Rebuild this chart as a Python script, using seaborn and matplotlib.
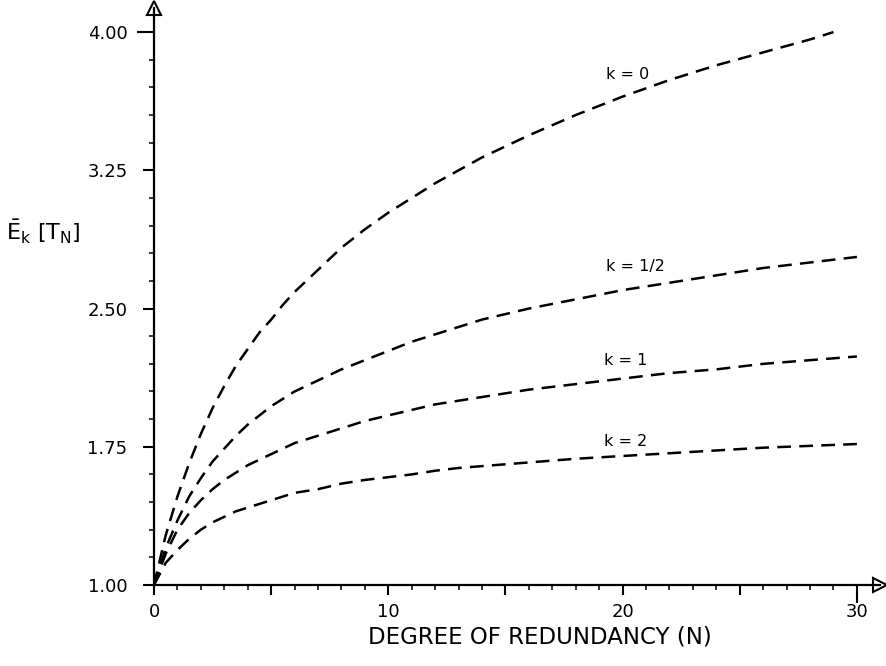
import numpy as np
import pandas as pd
import matplotlib
matplotlib.use("Agg")
import matplotlib.pyplot as plt
from matplotlib.ticker import MultipleLocator, FixedLocator, FuncFormatter
import seaborn as sns

# ---- data ----
N_grid = [0, 0.5, 1, 1.5, 2, 2.5, 3, 3.5, 4, 4.5, 5, 5.5, 6, 6.5, 7, 8, 9, 10, 11, 12,
          13, 14, 16, 18, 20, 22, 24, 26, 28, 30]
N_k0 = [0, 0.5, 1, 1.5, 2, 2.5, 3, 3.5, 4, 4.5, 5, 5.5, 6, 6.5, 7, 8, 9, 10, 11, 12,
        13, 14, 16, 18, 20, 22, 24, 26, 28, 29]
E_k0 = [1.00, 1.27, 1.48, 1.66, 1.82, 1.96, 2.08, 2.19, 2.28, 2.37, 2.44, 2.52, 2.59,
        2.65, 2.71, 2.83, 2.93, 3.02, 3.10, 3.18, 3.25, 3.32, 3.44, 3.55, 3.65, 3.74,
        3.82, 3.89, 3.96, 4.00]
E_k05 = [1.00, 1.20, 1.35, 1.48, 1.58, 1.67, 1.74, 1.81, 1.87, 1.92, 1.97, 2.01, 2.05,
         2.08, 2.11, 2.17, 2.22, 2.27, 2.32, 2.36, 2.40, 2.44, 2.50, 2.55, 2.60, 2.64,
         2.68, 2.72, 2.75, 2.78]
E_k1 = [1.00, 1.17, 1.30, 1.39, 1.46, 1.52, 1.57, 1.61, 1.65, 1.68, 1.71, 1.74, 1.77,
        1.79, 1.81, 1.85, 1.89, 1.92, 1.95, 1.98, 2.00, 2.02, 2.06, 2.09, 2.12, 2.15,
        2.17, 2.20, 2.22, 2.24]
E_k2 = [1.00, 1.12, 1.19, 1.25, 1.30, 1.34, 1.37, 1.40, 1.42, 1.44, 1.46, 1.48, 1.50,
        1.51, 1.52, 1.55, 1.57, 1.585, 1.60, 1.62, 1.635, 1.645, 1.665, 1.685, 1.70,
        1.715, 1.73, 1.745, 1.755, 1.765]

series_names = ["k = 0", "k = 1/2", "k = 1", "k = 2"]
label_x = [19.3, 19.3, 19.2, 19.2]
label_y = [3.77, 2.73, 2.22, 1.78]

y_major = [1.00, 1.75, 2.50, 3.25, 4.00]
x_labels = {0: "0", 10: "10", 20: "20", 30: "30"}

frames = []
for name, xs, ys in zip(series_names,
                        [N_k0, N_grid, N_grid, N_grid],
                        [E_k0, E_k05, E_k1, E_k2]):
    frames.append(pd.DataFrame({"N": xs, "E": ys, "k": name}))
df = pd.concat(frames, ignore_index=True)

# ---- styling ----
sns.set_theme(style="white")
plt.rcParams["font.family"] = ["DejaVu Sans"]
plt.rcParams["mathtext.fontset"] = "dejavusans"

fig = plt.figure(figsize=(8.86, 6.66), dpi=100)
ax = fig.add_axes([154 / 886, 81 / 666, 726 / 886, 577 / 666])

sns.lineplot(data=df, x="N", y="E", hue="k", palette=["black"] * 4,
             legend=False, ax=ax, linewidth=1.8, sort=False)
for ln in ax.lines:
    ln.set_dashes((5.5, 3.3))
    ln.set_solid_capstyle("butt")

ax.set_xlabel("")
ax.set_ylabel("")
ax.set_xlim(0, 726 / 23.43)
ax.set_ylim(1.0, 1.0 + 577 / 184.3)

for side in ["top", "right"]:
    ax.spines[side].set_visible(False)
for side in ["left", "bottom"]:
    ax.spines[side].set_linewidth(1.6)
    ax.spines[side].set_color("black")

# arrowheads (open)
ax.plot(1, 0, marker=">", markersize=10, mfc="white", mec="black", mew=1.5,
        transform=ax.transAxes, clip_on=False)
ax.plot(0, 1, marker="^", markersize=10, mfc="white", mec="black", mew=1.5,
        transform=ax.transAxes, clip_on=False)

# y ticks
ax.yaxis.set_major_locator(FixedLocator(y_major))
ax.yaxis.set_minor_locator(FixedLocator(list(np.round(np.arange(1.0, 4.001, 0.15), 2))))
ax.yaxis.set_major_formatter(FuncFormatter(lambda v, p: f"{v:.2f}"))
ax.tick_params(axis="y", which="major", direction="out", length=8, width=1.5,
               pad=11, labelsize=13, left=True, colors="black")
ax.tick_params(axis="y", which="minor", direction="out", length=3.5, width=1.3, left=True)

# x ticks
ax.xaxis.set_major_locator(FixedLocator([0, 5, 10, 15, 20, 25, 30]))
ax.xaxis.set_minor_locator(MultipleLocator(1))
ax.xaxis.set_major_formatter(FuncFormatter(lambda v, p: x_labels.get(int(round(v)), "")))
ax.tick_params(axis="x", which="major", direction="out", length=7, width=1.5,
               pad=6, labelsize=13, bottom=True, colors="black")
ax.tick_params(axis="x", which="minor", direction="out", length=3.5, width=1.3, bottom=True)

# longer ticks at y=4.00 and x=30
ax.yaxis.get_major_ticks()[-1].tick1line.set_markersize(12.5)
ax.xaxis.get_major_ticks()[-1].tick1line.set_markersize(13)

for name, lx, ly in zip(series_names, label_x, label_y):
    ax.text(lx, ly, name, fontsize=11.5, ha="left", va="center", color="black")

fig.text(540 / 886, 1 - 637 / 666, "DEGREE OF REDUNDANCY (N)", fontsize=16.5,
         ha="center", va="center", color="black")
fig.text(6 / 886, 1 - 232 / 666,
         r"$\bar{\mathrm{E}}_{\mathrm{k}}\ \left[\mathrm{T}_{\mathrm{N}}\right]$",
         fontsize=16, ha="left", va="center", color="black")

fig.savefig("out.png", dpi=100, facecolor="white")
